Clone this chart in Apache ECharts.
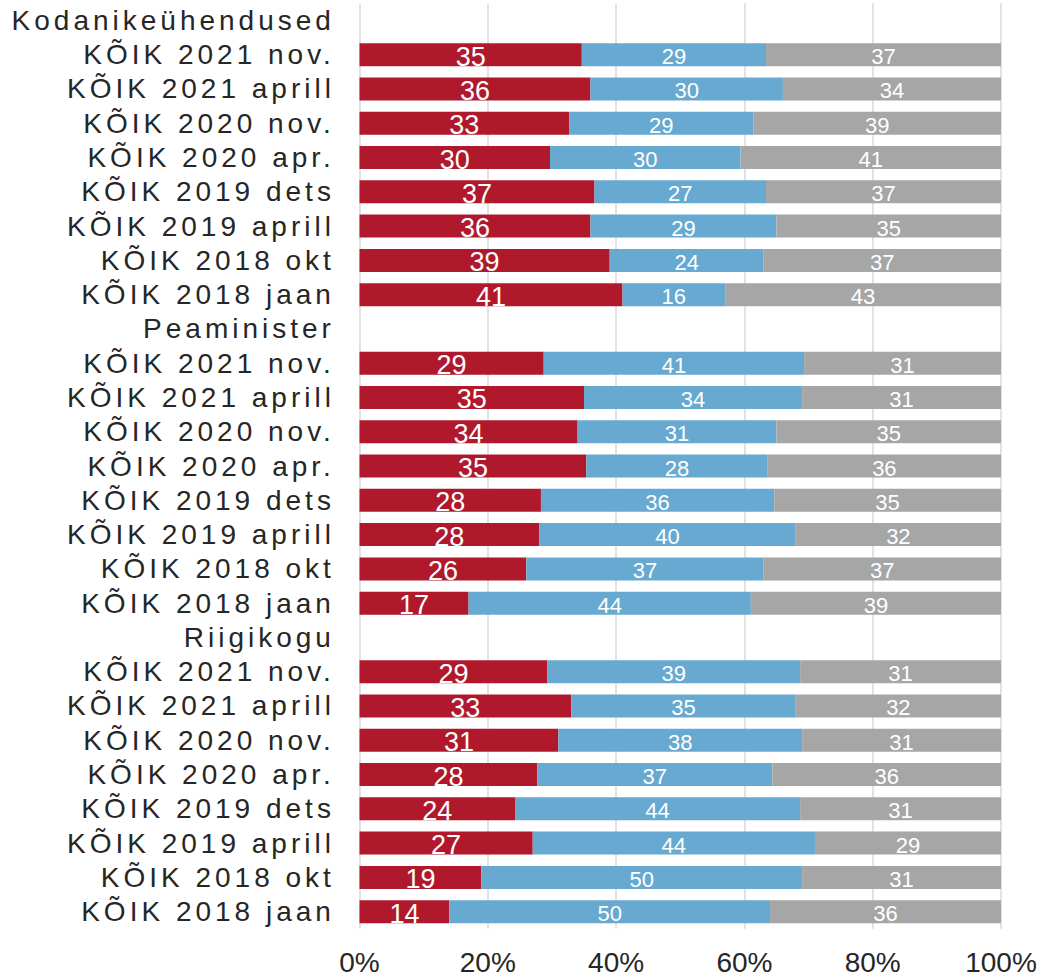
<!DOCTYPE html>
<html lang="et">
<head>
<meta charset="UTF-8">
<title>Usaldus</title>
<style>
  body { margin: 0; background: #fff; }
  #chart { width: 1040px; height: 978px; }
  /* row labels are spaced out in the original */
  #chart text[style*="Helvetica"] { letter-spacing: 4px; }
</style>
</head>
<body>
<div id="chart"></div>
<script src="https://cdn.jsdelivr.net/npm/echarts@6/dist/echarts.min.js"></script>
<script>
// rows, top to bottom; group header rows have no values
var categories = [
  'Kodanikeühendused',
  'KÕIK 2021 nov.', 'KÕIK 2021 aprill', 'KÕIK 2020 nov.', 'KÕIK 2020 apr.',
  'KÕIK 2019 dets', 'KÕIK 2019 aprill', 'KÕIK 2018 okt', 'KÕIK 2018 jaan',
  'Peaminister',
  'KÕIK 2021 nov.', 'KÕIK 2021 aprill', 'KÕIK 2020 nov.', 'KÕIK 2020 apr.',
  'KÕIK 2019 dets', 'KÕIK 2019 aprill', 'KÕIK 2018 okt', 'KÕIK 2018 jaan',
  'Riigikogu',
  'KÕIK 2021 nov.', 'KÕIK 2021 aprill', 'KÕIK 2020 nov.', 'KÕIK 2020 apr.',
  'KÕIK 2019 dets', 'KÕIK 2019 aprill', 'KÕIK 2018 okt', 'KÕIK 2018 jaan'
];

var redValues = [
  null, 35, 36, 33, 30, 37, 36, 39, 41,
  null, 29, 35, 34, 35, 28, 28, 26, 17,
  null, 29, 33, 31, 28, 24, 27, 19, 14
];
var blueValues = [
  null, 29, 30, 29, 30, 27, 29, 24, 16,
  null, 41, 34, 31, 28, 36, 40, 37, 44,
  null, 39, 35, 38, 37, 44, 44, 50, 50
];
var greyValues = [
  null, 37, 34, 39, 41, 37, 35, 37, 43,
  null, 31, 31, 35, 36, 35, 32, 37, 39,
  null, 31, 32, 31, 36, 31, 29, 31, 36
];

var xTicks = [0, 20, 40, 60, 80, 100];

// each bar is shown as share of its row total (rows sum to 99-101)
function shares(vals) {
  return vals.map(function (v, i) {
    if (v == null) return '-';
    var total = redValues[i] + blueValues[i] + greyValues[i];
    return { value: v / total * 100, raw: v };
  });
}

var labelFont = "'Liberation Sans', Arial, sans-serif";

function makeSeries(name, vals, color, fontSize) {
  return {
    name: name,
    type: 'bar',
    stack: 'total',
    barWidth: 23,
    itemStyle: { color: color },
    label: {
      show: true,
      position: 'inside',
      offset: [0, 2],
      color: '#fff',
      fontFamily: labelFont,
      fontSize: fontSize,
      formatter: function (p) { return p.data && p.data.raw != null ? p.data.raw : ''; }
    },
    emphasis: { disabled: true },
    data: shares(vals)
  };
}

var myChart = echarts.init(document.getElementById('chart'), null, { renderer: 'svg' });
var option = {
  animation: false,
  grid: {
    left: 359.5,
    right: 39,
    top: 3.3,
    bottom: 49.2,
    containLabel: false,
    outerBoundsMode: 'none'
  },
  xAxis: {
    type: 'value',
    min: xTicks[0],
    max: xTicks[xTicks.length - 1],
    interval: 20,
    axisLine: { show: false },
    axisTick: { show: false },
    splitLine: { show: true, lineStyle: { color: '#d9d9d9', width: 1.5 } },
    axisLabel: {
      margin: 20,
      color: '#262626',
      fontFamily: labelFont,
      fontSize: 28,
      formatter: '{value}%'
    }
  },
  yAxis: {
    type: 'category',
    inverse: true,
    data: categories,
    axisLine: { show: false },
    axisTick: { show: false },
    axisLabel: {
      interval: 0,
      margin: 24.6,
      color: '#262626',
      fontFamily: "'Liberation Sans', Arial, Helvetica",
      fontSize: 28
    }
  },
  series: [
    makeSeries('punane', redValues, '#b0182c', 27),
    makeSeries('sinine', blueValues, '#67a9d0', 22),
    makeSeries('hall', greyValues, '#a6a6a6', 22)
  ]
};
myChart.setOption(option);
</script>
</body>
</html>
